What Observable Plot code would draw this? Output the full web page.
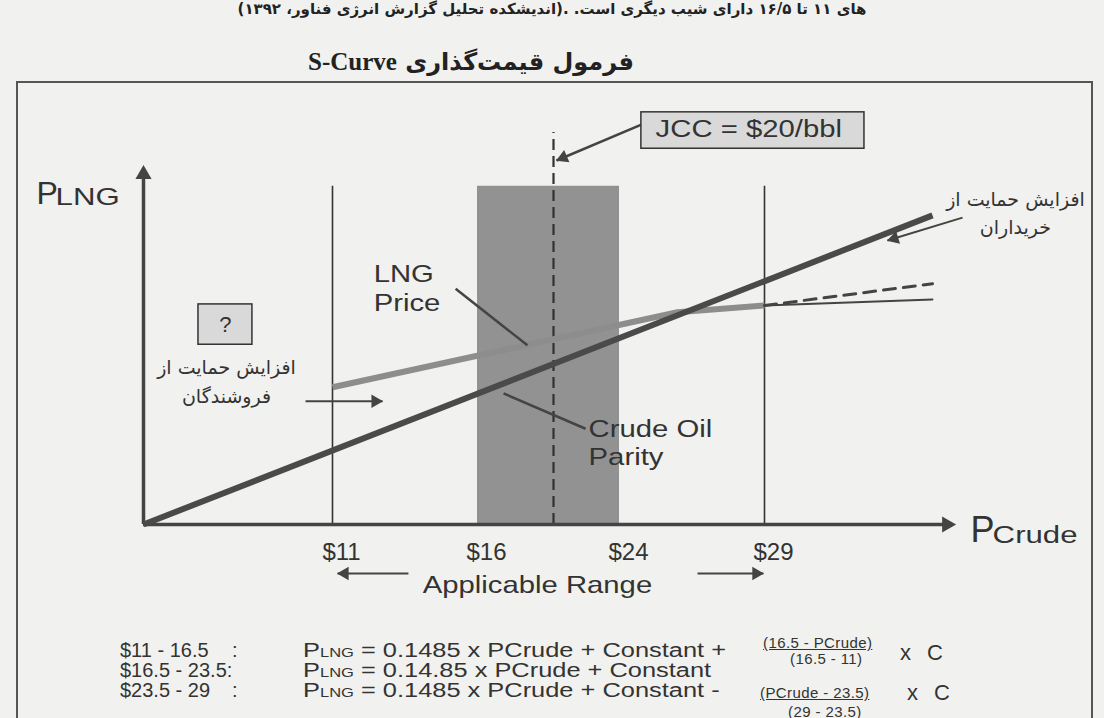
<!DOCTYPE html>
<html><head><meta charset="utf-8">
<script src="https://cdn.jsdelivr.net/npm/d3@7"></script>
<script src="https://cdn.jsdelivr.net/npm/@observablehq/plot@0.6"></script>
<style>
body{margin:0;background:#f1f1ef;width:1104px;height:718px;overflow:hidden;position:relative;font-family:"Liberation Sans",Arial,sans-serif;color:#333}
#top{position:absolute;left:0;width:1104px;top:0px;line-height:18px;text-align:center;font:bold 15px "DejaVu Sans";direction:rtl;color:#222;white-space:nowrap}
#title{position:absolute;left:308px;top:48px;direction:rtl;white-space:nowrap;font:bold 24px "DejaVu Sans";color:#222}
#title .en{font-family:"Liberation Serif";font-weight:bold;font-size:25px}
#frame{position:absolute;left:16px;top:81px;width:1077px;height:700px;border:2px solid #555;box-sizing:border-box}
#chart{position:absolute;left:0;top:81px}
.f{position:absolute;font-size:20px;white-space:nowrap;line-height:20px;color:#333}
.rhs{transform:scaleX(1.27);transform-origin:0 0}
.sm{font-size:13px}
.fr{position:absolute;font-size:15px;line-height:15px;white-space:nowrap;letter-spacing:0.4px;color:#333}
.u{text-decoration:underline}
.xc{position:absolute;font-size:22px;line-height:22px;word-spacing:10px;color:#333}
</style></head>
<body>
<div id="top">های ۱۱ تا ۱۶/۵ دارای شیب دیگری است. .(اندیشکده تحلیل گزارش انرژی فناور، ۱۳۹۲)</div>
<div id="title">فرمول قیمت‌گذاری <span class="en">S-Curve</span></div>
<div id="frame"></div>
<div id="chart"></div>
<div class="f" style="left:120px;top:640px">$11 - 16.5</div>
<div class="f" style="left:232px;top:640px">:</div>
<div class="f rhs" style="left:303px;top:640px">P<span class="sm">LNG</span> = 0.1485 x PCrude + Constant +</div>
<div class="fr u" style="left:763px;top:635px">(16.5 - PCrude)</div>
<div class="fr" style="left:790px;top:651px">(16.5 - 11)</div>
<div class="xc" style="left:900px;top:642px">x C</div>
<div class="f" style="left:120px;top:660px">$16.5 - 23.5:</div>
<div class="f rhs" style="left:303px;top:660px">P<span class="sm">LNG</span> = 0.14.85 x PCrude + Constant</div>
<div class="f" style="left:120px;top:680px">$23.5 - 29</div>
<div class="f" style="left:232px;top:680px">:</div>
<div class="f rhs" style="left:303px;top:680px">P<span class="sm">LNG</span> = 0.1485 x PCrude + Constant -</div>
<div class="fr u" style="left:760px;top:685px">(PCrude - 23.5)</div>
<div class="fr" style="left:788px;top:704px">(29 - 23.5)</div>
<div class="xc" style="left:907px;top:682px">x C</div>
<script>
// ---- data (x: crude price $/bbl, y: LNG price, schematic units) ----
const tickValues = [11, 16.5, 23.5, 29];
const tickLabels = ["$11", "$16", "$24", "$29"];
const rangeBounds = [11, 29];
const bandRange = [16.5, 23.5];
const bandTop = 6.04;
const jccValue = 20;
const jccTop = 7.0;
const crudeX = [0, 35];
const crudeY = [0, 5.52];
const lngX = [11, 25.7, 29];
const lngY = [2.45, 3.79, 3.91];
const lngFlatX = [29, 35];
const lngFlatY = [3.91, 4.02];
const lngDashX = [29, 35];
const lngDashY = [3.91, 4.30];
const xAxisEnd = 36.5;
const yAxisEnd = 6.41;

// annotation layout (data units)
const pointerLines = [
  {x1: 15.67, y1: 4.21, x2: 18.80, y2: 3.20},   // LNG Price
  {x1: 17.70, y1: 2.34, x2: 21.70, y2: 1.71}    // Crude Oil Parity
];
const headedArrows = [
  {x1: 24.33, y1: 7.14, x2: 20.16, y2: 6.50, w: 2.5},   // JCC box -> dashed line
  {x1: 9.43, y1: 2.20, x2: 12.90, y2: 2.20, w: 2},      // sellers
  {x1: 36.96, y1: 5.48, x2: 33.39, y2: 5.07, w: 2},     // buyers
  {x1: 13.88, y1: -0.875, x2: 11.19, y2: -0.875, w: 2}, // applicable range left
  {x1: 26.46, y1: -0.875, x2: 28.96, y2: -0.875, w: 2}  // applicable range right
];
const boxes = [
  {x1: 24.33, x2: 32.57, y1: 6.71, y2: 7.36},  // JCC
  {x1: 3.20, x2: 6.34, y1: 3.21, y2: 3.93}     // ?
];

const xBreaks = [0, 11, 16.5, 20, 23.5, 29, 35, 36.5];
const xPixels = [143, 332, 477, 553, 619, 764, 932, 955];
const X = d3.scaleLinear(xBreaks, xPixels);
const Y = d3.scaleLinear([0, 7], [443, 51]);

const series = (xs, ys) => xs.map((x, i) => ({x, y: ys[i]}));
const R = 5;
function head(a, r) {
  const px1 = X(a.x1), py1 = Y(a.y1), px2 = X(a.x2), py2 = Y(a.y2);
  const ang = Math.atan2(py2 - py1, px2 - px1);
  const off = 1.45 * r;
  return {x: X.invert(px2 - Math.cos(ang) * off), y: Y.invert(py2 - Math.sin(ang) * off), rotate: ang * 180 / Math.PI + 90};
}
const axisHeads = [
  head({x1: 0, y1: 0, x2: xAxisEnd, y2: 0}, 6),
  head({x1: 0, y1: 0, x2: 0, y2: yAxisEnd}, 6)
];
const arrowHeads = headedArrows.map(a => head(a, R));
const ticks = tickValues.map((v, i) => ({x: v, label: tickLabels[i]}));

const latin = "Liberation Sans, Arial, sans-serif";
const persian = "DejaVu Sans, sans-serif";

const plot = Plot.plot({
  width: 1104, height: 637,
  margin: 0,
  x: {type: "linear", domain: xBreaks, range: xPixels, axis: null},
  y: {type: "linear", domain: [0, 7], range: [443, 51], axis: null},
  style: {background: "transparent", overflow: "visible"},
  marks: [
    Plot.rectY([bandRange], {x1: d => d[0], x2: d => d[1], y1: 0, y2: bandTop, fill: "#929292"}),
    Plot.ruleX(rangeBounds, {y1: 0, y2: bandTop, stroke: "#333", strokeWidth: 1.6}),
    Plot.ruleX([jccValue], {y1: 0, y2: jccTop, stroke: "#333", strokeWidth: 2.2, strokeDasharray: "11,6"}),
    Plot.ruleY([0], {x1: 0, x2: xAxisEnd - 0.3, stroke: "#444", strokeWidth: 3.5}),
    Plot.ruleX([0], {y1: 0, y2: yAxisEnd - 0.15, stroke: "#444", strokeWidth: 3.5}),
    Plot.dot(axisHeads, {x: "x", y: "y", rotate: "rotate", symbol: "triangle", r: 6, fill: "#444", stroke: "none"}),
    Plot.line(series(lngX, lngY), {x: "x", y: "y", stroke: "#8d8d8d", strokeWidth: 6, strokeLinecap: "butt"}),
    Plot.line(series(lngFlatX, lngFlatY), {x: "x", y: "y", stroke: "#444", strokeWidth: 2}),
    Plot.line(series(lngDashX, lngDashY), {x: "x", y: "y", stroke: "#444", strokeWidth: 3, strokeDasharray: "12,8"}),
    Plot.line(series(crudeX, crudeY), {x: "x", y: "y", stroke: "#4a4a4a", strokeWidth: 6, strokeLinecap: "butt"}),
    Plot.link(pointerLines, {x1: "x1", y1: "y1", x2: "x2", y2: "y2", stroke: "#444", strokeWidth: 2.5}),
    Plot.link(headedArrows, {x1: "x1", y1: "y1", x2: "x2", y2: "y2", stroke: "#444", strokeWidth: "w"}),
    Plot.dot(arrowHeads, {x: "x", y: "y", rotate: "rotate", symbol: "triangle", r: R, fill: "#444", stroke: "none"}),
    Plot.rect(boxes, {x1: "x1", x2: "x2", y1: "y1", y2: "y2", fill: "#d9d9d9", stroke: "#333", strokeWidth: 1.5}),
    // texts
    Plot.text(ticks, {x: "x", y: -0.49, dx: 9, text: "label", fontSize: 24, fontFamily: latin, fill: "#333"}),
    Plot.text(["JCC = $20/bbl"], {x: 24.87, y: 7.06, text: d => d, textAnchor: "start", fontSize: 24, fontFamily: latin, fill: "#333", ariaDescription: "sx1.22"}),
    Plot.text(["?"], {x: 4.77, y: 3.57, text: d => d, fontSize: 22, fontFamily: latin, fill: "#333"}),
    Plot.text(["LNG\nPrice"], {x: 12.56, y: 4.24, text: d => d, textAnchor: "start", lineHeight: 1.22, fontSize: 24, fontFamily: latin, fill: "#333", ariaDescription: "sx1.22"}),
    Plot.text(["Crude Oil\nParity"], {x: 21.86, y: 1.48, text: d => d, textAnchor: "start", lineHeight: 1.17, fontSize: 24, fontFamily: latin, fill: "#333", ariaDescription: "sx1.22"}),
    Plot.text(["Applicable Range"], {x: 19.26, y: -1.09, text: d => d, fontSize: 24, fontFamily: latin, fill: "#333", ariaDescription: "sx1.22"}),
    Plot.text(["P"], {x: -6.23, y: 5.91, text: d => d, textAnchor: "start", fontSize: 32, fontFamily: latin, fill: "#333"}),
    Plot.text(["LNG"], {x: -5.12, y: 5.85, text: d => d, textAnchor: "start", fontSize: 24, fontFamily: latin, fill: "#333", ariaDescription: "sx1.3"}),
    Plot.text(["P"], {x: 37.48, y: -0.107, text: d => d, textAnchor: "start", fontSize: 36, fontFamily: latin, fill: "#333"}),
    Plot.text(["Crude"], {x: 38.92, y: -0.196, text: d => d, textAnchor: "start", fontSize: 24, fontFamily: latin, fill: "#333", ariaDescription: "sx1.3"}),
    Plot.text(["افزایش حمایت از\nفروشندگان"], {x: 4.83, y: 2.59, text: d => d, lineHeight: 1.5, fontSize: 19, fontFamily: persian, fill: "#333"}),
    Plot.text(["افزایش حمایت از\nخریداران"], {x: 40.41, y: 5.60, text: d => d, lineHeight: 1.5, fontSize: 19, fontFamily: persian, fill: "#333"})
  ]
});
const host = document.getElementById("chart");
host.appendChild(plot);
plot.querySelectorAll('g[aria-description^="sx"]').forEach(g => {
  const s = g.getAttribute("aria-description").slice(2);
  g.querySelectorAll("text").forEach(t => {
    const tr = t.getAttribute("transform");
    if (tr) t.setAttribute("transform", tr + ` scale(${s},1)`);
  });
});
</script>
</body></html>
